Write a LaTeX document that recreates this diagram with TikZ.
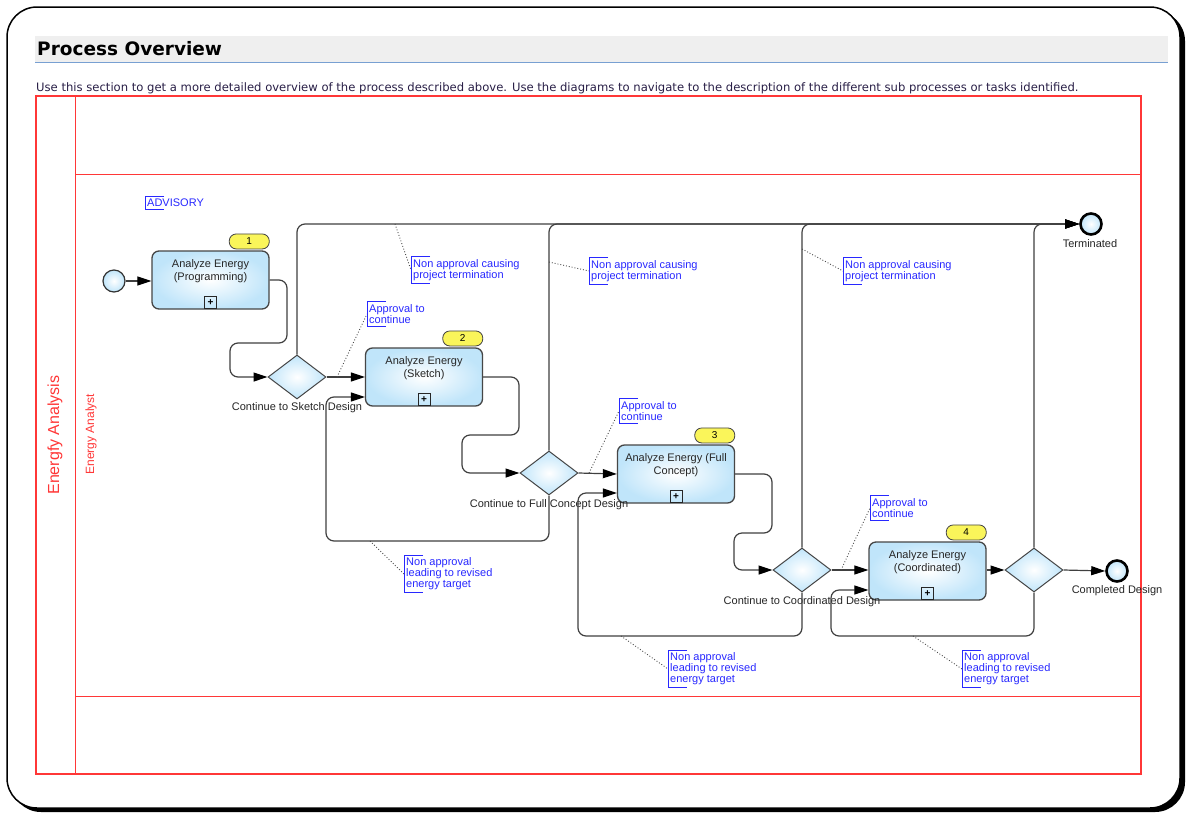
\documentclass[tikz,border=0pt]{standalone}
\usepackage{fontspec}
\setmainfont{Liberation Sans}
\newfontfamily\verdfont{DejaVu Sans}
\usetikzlibrary{arrows.meta,shapes.geometric,calc}
\definecolor{lanered}{RGB}{255,55,55}
\definecolor{annblue}{RGB}{40,40,255}
\definecolor{taskedge}{RGB}{70,70,70}
\definecolor{taskblue}{RGB}{192,229,250}
\definecolor{badgeyel}{RGB}{250,245,90}
\definecolor{hdrgray}{RGB}{239,239,239}
\definecolor{hdrline}{RGB}{120,160,210}
\definecolor{subtxt}{RGB}{40,30,70}
\begin{document}
\begin{tikzpicture}[x=1pt,y=-1pt,
  task/.style={draw=taskedge, line width=1.3pt, rounded corners=7pt, minimum width=117pt, minimum height=58pt, inner sep=0pt, inner color=white, outer color=taskblue},
  tasktext/.style={font=\fontsize{11}{13}\selectfont, align=center, inner sep=0pt, text=black!85},
  gw/.style={diamond, draw=taskedge, line width=1pt, minimum width=58pt, minimum height=44pt, inner sep=0pt, aspect=1.32, inner color=white, outer color=taskblue},
  gwlabel/.style={font=\fontsize{11}{13}\selectfont, inner sep=0pt, text=black!85},
  startev/.style={circle, draw=black!80, line width=1.2pt, minimum size=22pt, inner sep=0pt, inner color=white, outer color=taskblue},
  endev/.style={circle, draw=black, line width=2.6pt, minimum size=21pt, inner sep=0pt, inner color=white, outer color=taskblue},
  badge/.style={draw=taskedge, line width=0.8pt, fill=badgeyel, rounded corners=7pt, minimum width=40pt, minimum height=15pt, inner sep=0pt, font=\fontsize{10}{12}\selectfont, anchor=south east},
  plusbox/.style={draw=black!85, line width=1pt, minimum size=12pt, inner sep=0pt, font=\bfseries\fontsize{10}{10}\selectfont},
  flow/.style={draw=black!75, line width=1.2pt, rounded corners=8pt, -{Triangle[length=14pt,width=9pt,fill=black,color=black]}},
  annot/.style={font=\fontsize{11}{11}\selectfont, text=annblue, align=left, anchor=west, inner xsep=2pt, inner ysep=2.5pt},
  bracket/.style={draw=annblue, line width=1pt},
  assoc/.style={draw=black!70, line width=0.9pt, dotted},
  lane/.style={draw=lanered, line width=1pt}
]
\useasboundingbox (0,0) rectangle (1188,814);
% frame
\fill[black, rounded corners=30pt] (11,11) rectangle (1185,812);
\draw[fill=white, line width=1.5pt, rounded corners=30pt] (7,7) rectangle (1180,808);
% header
\fill[hdrgray] (35,36) rectangle (1168,62);
\draw[hdrline, line width=1pt] (35,62) -- (1168,62);
\node[anchor=west, inner sep=0pt, font=\verdfont\bfseries\fontsize{18.5}{21}\selectfont] (title) at (37,49) {Process Overview};
\node[anchor=west, inner sep=0pt, text=subtxt, font=\verdfont\fontsize{11.6}{13}\selectfont] (subtitle) at (36,88) {Use this section to get a more detailed overview of the process described above. Use the diagrams to navigate to the description of the different sub processes or tasks identified.};
% pool and lane
\draw[lane, line width=1.3pt] (36,96) rectangle (1141,774);
\draw[lane] (75,96) -- (75,774);
\draw[lane] (75,174) -- (1141,174);
\draw[lane] (75,696) -- (1141,696);
\node[rotate=90, text=lanered, inner sep=0pt, font=\fontsize{16}{18}\selectfont] (poollabel) at (55,435) {Energfy Analysis};
\node[rotate=90, text=lanered, inner sep=0pt, font=\fontsize{12}{14}\selectfont] (lanelabel) at (91,434) {Energy Analyst};
% ADVISORY
\node[annot] (adv) at (145,203) {ADVISORY};
\draw[bracket] ($(adv.north west)+(19,0)$) -- (adv.north west) -- (adv.south west) -- ++(19,0);
% events
\node[startev] (s) at (114,281) {};
\node[endev] (term) at (1091,224) {};
\node[gwlabel] (termlabel) at (1090,244) {Terminated};
\node[endev] (done) at (1117,571) {};
\node[gwlabel] (donelabel) at (1117,591) {Completed Design};
% tasks
\node[task] (t1) at (210.5,280) {};
\node[task] (t2) at (424,377) {};
\node[task] (t3) at (676,474) {};
\node[task] (t4) at (927.5,571) {};
\node[tasktext, anchor=north] (t1text) at ($(t1.north)+(0,8.5)$) {Analyze Energy\\(Programming)};
\node[tasktext, anchor=north] (t2text) at ($(t2.north)+(0,8.5)$) {Analyze Energy\\(Sketch)};
\node[tasktext, anchor=north] (t3text) at ($(t3.north)+(0,8.5)$) {Analyze Energy (Full\\Concept)};
\node[tasktext, anchor=north] (t4text) at ($(t4.north)+(0,8.5)$) {Analyze Energy\\(Coordinated)};
\foreach \t/\n in {t1/1,t2/2,t3/3,t4/4}{
  \node[plusbox] (\t plus) at ($(\t.south)+(0,-7)$) {+};
  \node[badge] (\t badge) at ($(\t.north east)+(0,-1)$) {\n};
}
% gateways
\node[gw] (g1) at (297,377) {};
\node[gw] (g2) at (549,473) {};
\node[gw] (g3) at (802,570) {};
\node[gw] (g4) at (1034,570) {};
\node[gwlabel] (g1label) at (297,408) {Continue to Sketch Design};
\node[gwlabel] (g2label) at (549,505) {Continue to Full Concept Design};
\node[gwlabel] (g3label) at (802,602) {Continue to Coordinated Design};
% flows
\draw[flow] (s.east) -- (s.east -| t1.west);
\draw[flow] (t1.east) -- (287,280) -- (287,343) -- (230,343) -- (230,377) -- (g1.west);
\draw[flow] (g1.east) -- (t2.west);
\draw[flow] (t2.east) -- (519,377) -- (519,435) -- (462,435) -- (462,473) -- (g2.west);
\draw[flow] (g2.east) -- (t3.west);
\draw[flow] (t3.east) -- (772,474) -- (772,533) -- (734,533) -- (734,570) -- (g3.west);
\draw[flow] (g3.east) -- (g3.east -| t4.west);
\draw[flow] (t4.east |- g4.west) -- (g4.west);
\draw[flow] (g4.east) -- (done.west);
\draw[flow] (g1.north) -- (297,224) -- (term.west);
\draw[flow] (g2.north) -- (549,224) -- (term.west);
\draw[flow] (g3.north) -- (802,224) -- (term.west);
\draw[flow] (g4.north) -- (1034,224) -- (term.west);
\draw[flow] (g2.south) -- (549,541) -- (326,541) -- (326,397) -- (t2.west |- 0,397);
\draw[flow] (g3.south) -- (802,636) -- (578,636) -- (578,493) -- (t3.west |- 0,493);
\draw[flow] (g4.south) -- (1034,636) -- (831,636) -- (831,590) -- (t4.west |- 0,590);
% annotations
\node[annot] (a1) at (411,270) {Non approval causing\\project termination};
\node[annot] (a2) at (589,271) {Non approval causing\\project termination};
\node[annot] (a3) at (843,271) {Non approval causing\\project termination};
\node[annot] (b1) at (367,314) {Approval to\\continue};
\node[annot] (b2) at (619,411) {Approval to\\continue};
\node[annot] (b3) at (870,508) {Approval to\\continue};
\node[annot] (c1) at (404,574) {Non approval\\leading to revised\\energy target};
\node[annot] (c2) at (668,669) {Non approval\\leading to revised\\energy target};
\node[annot] (c3) at (962,669) {Non approval\\leading to revised\\energy target};
\foreach \a in {a1,a2,a3,b1,b2,b3,c1,c2,c3}{
  \draw[bracket] ($(\a.north west)+(19,0)$) -- (\a.north west) -- (\a.south west) -- ++(19,0);
}
\coordinate (pa1) at (395,224);
\coordinate (pa2) at (549,262);
\coordinate (pa3) at (802,249);
\coordinate (pb1) at (337,377);
\coordinate (pb2) at (589,473);
\coordinate (pb3) at (841,570);
\coordinate (pc1) at (370,541);
\coordinate (pc2) at (621,636);
\coordinate (pc3) at (913,636);
\foreach \a in {a1,a2,a3,b1,b2,b3,c1,c2,c3}{
  \draw[assoc] (p\a) -- (\a.west);
}
\end{tikzpicture}
\end{document}
